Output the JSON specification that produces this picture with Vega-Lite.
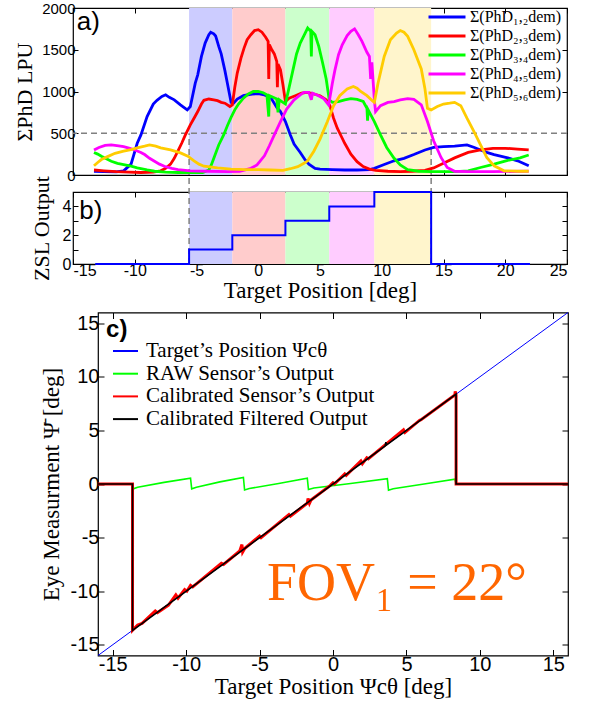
{
  "$schema": "https://vega.github.io/schema/vega-lite/v6.json",
  "background": "white",
  "padding": {"left": 13, "top": 0, "right": 5, "bottom": 2},
  "datasets": {
    "bands": [
      {"b": "1", "x1": -5.6, "x2": -2.1},
      {"b": "2", "x1": -2.1, "x2": 2.2},
      {"b": "3", "x1": 2.2, "x2": 5.75},
      {"b": "4", "x1": 5.75, "x2": 9.4},
      {"b": "5", "x1": 9.4, "x2": 14.0}
    ],
    "thr": [{"x": -5.6}, {"x": 14.0}],
    "series": [
      {"k": 1, "name": "Σ(PhD₁,₂dem)"},
      {"k": 2, "name": "Σ(PhD₂,₃dem)"},
      {"k": 3, "name": "Σ(PhD₃,₄dem)"},
      {"k": 4, "name": "Σ(PhD₄,₅dem)"},
      {"k": 5, "name": "Σ(PhD₅,₆dem)"}
    ],
    "phd": [
      {"k":1,"x":-13.3,"v":45},{"k":1,"x":-12.5,"v":40},{"k":1,"x":-11.5,"v":38},{"k":1,"x":-10.9,"v":50},{"k":1,"x":-10.3,"v":130},{"k":1,"x":-9.8,"v":380},{"k":1,"x":-9.5,"v":480},{"k":1,"x":-9.0,"v":700},{"k":1,"x":-8.5,"v":850},{"k":1,"x":-8.2,"v":895},{"k":1,"x":-7.8,"v":940},{"k":1,"x":-7.5,"v":960},{"k":1,"x":-7.2,"v":930},{"k":1,"x":-6.8,"v":900},{"k":1,"x":-6.3,"v":840},{"k":1,"x":-5.75,"v":780},{"k":1,"x":-5.5,"v":820},{"k":1,"x":-5.1,"v":1100},{"k":1,"x":-4.9,"v":1200},{"k":1,"x":-4.6,"v":1420},{"k":1,"x":-4.3,"v":1580},{"k":1,"x":-4.0,"v":1680},{"k":1,"x":-3.85,"v":1710},{"k":1,"x":-3.6,"v":1690},{"k":1,"x":-3.45,"v":1665},{"k":1,"x":-3.2,"v":1540},{"k":1,"x":-3.0,"v":1450},{"k":1,"x":-2.7,"v":1250},{"k":1,"x":-2.5,"v":1100},{"k":1,"x":-2.2,"v":870},{"k":1,"x":-2.0,"v":860},{"k":1,"x":-1.7,"v":910},{"k":1,"x":-1.2,"v":950},{"k":1,"x":-0.5,"v":970},{"k":1,"x":0.0,"v":975},{"k":1,"x":0.5,"v":960},{"k":1,"x":1.0,"v":930},{"k":1,"x":1.5,"v":810},{"k":1,"x":1.8,"v":760},{"k":1,"x":2.2,"v":640},{"k":1,"x":2.6,"v":480},{"k":1,"x":2.9,"v":370},{"k":1,"x":3.4,"v":270},{"k":1,"x":3.8,"v":180},{"k":1,"x":4.1,"v":130},{"k":1,"x":4.6,"v":80},{"k":1,"x":5.0,"v":70},{"k":1,"x":6.0,"v":65},{"k":1,"x":7.0,"v":60},{"k":1,"x":8.0,"v":60},{"k":1,"x":9.0,"v":65},{"k":1,"x":9.4,"v":80},{"k":1,"x":10.2,"v":125},{"k":1,"x":11.0,"v":170},{"k":1,"x":11.8,"v":200},{"k":1,"x":12.6,"v":245},{"k":1,"x":13.5,"v":300},{"k":1,"x":14.2,"v":330},{"k":1,"x":15.0,"v":340},{"k":1,"x":15.9,"v":345},{"k":1,"x":16.9,"v":360},{"k":1,"x":17.5,"v":330},{"k":1,"x":18.5,"v":270},{"k":1,"x":19.1,"v":245},{"k":1,"x":20.2,"v":205},{"k":1,"x":21.0,"v":170},{"k":1,"x":21.9,"v":110},
      {"k":2,"x":-13.3,"v":60},{"k":2,"x":-12.5,"v":50},{"k":2,"x":-11.5,"v":40},{"k":2,"x":-10.5,"v":35},{"k":2,"x":-9.5,"v":30},{"k":2,"x":-8.5,"v":35},{"k":2,"x":-7.9,"v":50},{"k":2,"x":-7.5,"v":80},{"k":2,"x":-7.1,"v":130},{"k":2,"x":-6.8,"v":200},{"k":2,"x":-6.5,"v":290},{"k":2,"x":-6.2,"v":380},{"k":2,"x":-5.9,"v":480},{"k":2,"x":-5.5,"v":600},{"k":2,"x":-5.2,"v":680},{"k":2,"x":-4.9,"v":760},{"k":2,"x":-4.6,"v":850},{"k":2,"x":-4.4,"v":895},{"k":2,"x":-4.0,"v":910},{"k":2,"x":-3.6,"v":900},{"k":2,"x":-3.3,"v":890},{"k":2,"x":-3.0,"v":870},{"k":2,"x":-2.7,"v":860},{"k":2,"x":-2.3,"v":820},{"k":2,"x":-2.1,"v":840},{"k":2,"x":-1.9,"v":1050},{"k":2,"x":-1.7,"v":1220},{"k":2,"x":-1.4,"v":1400},{"k":2,"x":-1.15,"v":1520},{"k":2,"x":-0.9,"v":1620},{"k":2,"x":-0.6,"v":1680},{"k":2,"x":-0.3,"v":1730},{"k":2,"x":0.0,"v":1740},{"k":2,"x":0.3,"v":1710},{"k":2,"x":0.6,"v":1650},{"k":2,"x":0.8,"v":1600},{"k":2,"x":0.85,"v":1150},{"k":2,"x":0.9,"v":1560},{"k":2,"x":1.1,"v":1500},{"k":2,"x":1.3,"v":1450},{"k":2,"x":1.5,"v":1360},{"k":2,"x":1.55,"v":1050},{"k":2,"x":1.6,"v":1330},{"k":2,"x":1.8,"v":1260},{"k":2,"x":2.0,"v":1080},{"k":2,"x":2.2,"v":880},{"k":2,"x":2.5,"v":920},{"k":2,"x":3.0,"v":950},{"k":2,"x":3.5,"v":980},{"k":2,"x":4.0,"v":990},{"k":2,"x":4.5,"v":970},{"k":2,"x":5.0,"v":950},{"k":2,"x":5.5,"v":900},{"k":2,"x":5.8,"v":830},{"k":2,"x":6.1,"v":680},{"k":2,"x":6.4,"v":560},{"k":2,"x":6.7,"v":470},{"k":2,"x":7.0,"v":380},{"k":2,"x":7.5,"v":250},{"k":2,"x":8.0,"v":160},{"k":2,"x":8.5,"v":100},{"k":2,"x":9.0,"v":70},{"k":2,"x":9.5,"v":55},{"k":2,"x":10.5,"v":45},{"k":2,"x":11.5,"v":40},{"k":2,"x":12.5,"v":45},{"k":2,"x":13.5,"v":55},{"k":2,"x":14.2,"v":85},{"k":2,"x":15.0,"v":140},{"k":2,"x":15.9,"v":205},{"k":2,"x":17.0,"v":270},{"k":2,"x":18.0,"v":300},{"k":2,"x":19.0,"v":320},{"k":2,"x":20.0,"v":320},{"k":2,"x":21.0,"v":310},{"k":2,"x":21.9,"v":300},
      {"k":3,"x":-13.3,"v":270},{"k":3,"x":-13.0,"v":250},{"k":3,"x":-12.7,"v":225},{"k":3,"x":-12.3,"v":195},{"k":3,"x":-11.9,"v":165},{"k":3,"x":-11.4,"v":140},{"k":3,"x":-10.9,"v":125},{"k":3,"x":-10.3,"v":105},{"k":3,"x":-9.8,"v":85},{"k":3,"x":-9.0,"v":60},{"k":3,"x":-8.4,"v":45},{"k":3,"x":-7.5,"v":35},{"k":3,"x":-6.5,"v":30},{"k":3,"x":-5.5,"v":30},{"k":3,"x":-4.5,"v":30},{"k":3,"x":-4.0,"v":60},{"k":3,"x":-3.8,"v":120},{"k":3,"x":-3.5,"v":240},{"k":3,"x":-3.2,"v":360},{"k":3,"x":-2.8,"v":480},{"k":3,"x":-2.5,"v":590},{"k":3,"x":-2.2,"v":690},{"k":3,"x":-1.9,"v":780},{"k":3,"x":-1.6,"v":850},{"k":3,"x":-1.2,"v":920},{"k":3,"x":-0.8,"v":970},{"k":3,"x":-0.4,"v":1000},{"k":3,"x":0.0,"v":1000},{"k":3,"x":0.4,"v":985},{"k":3,"x":0.7,"v":960},{"k":3,"x":0.85,"v":700},{"k":3,"x":0.9,"v":950},{"k":3,"x":1.2,"v":930},{"k":3,"x":1.5,"v":910},{"k":3,"x":1.6,"v":750},{"k":3,"x":1.7,"v":900},{"k":3,"x":2.0,"v":870},{"k":3,"x":2.2,"v":850},{"k":3,"x":2.5,"v":1050},{"k":3,"x":2.8,"v":1250},{"k":3,"x":3.1,"v":1450},{"k":3,"x":3.4,"v":1580},{"k":3,"x":3.7,"v":1670},{"k":3,"x":4.0,"v":1760},{"k":3,"x":4.25,"v":1720},{"k":3,"x":4.3,"v":1420},{"k":3,"x":4.35,"v":1720},{"k":3,"x":4.6,"v":1680},{"k":3,"x":4.9,"v":1540},{"k":3,"x":5.2,"v":1350},{"k":3,"x":5.5,"v":1150},{"k":3,"x":5.75,"v":900},{"k":3,"x":6.0,"v":870},{"k":3,"x":6.5,"v":880},{"k":3,"x":7.0,"v":900},{"k":3,"x":7.5,"v":915},{"k":3,"x":8.0,"v":905},{"k":3,"x":8.5,"v":880},{"k":3,"x":8.8,"v":800},{"k":3,"x":8.85,"v":650},{"k":3,"x":8.9,"v":780},{"k":3,"x":9.4,"v":640},{"k":3,"x":9.9,"v":480},{"k":3,"x":10.4,"v":330},{"k":3,"x":11.0,"v":200},{"k":3,"x":11.5,"v":120},{"k":3,"x":12.1,"v":65},{"k":3,"x":13.0,"v":45},{"k":3,"x":14.0,"v":40},{"k":3,"x":15.0,"v":40},{"k":3,"x":16.0,"v":40},{"k":3,"x":17.0,"v":50},{"k":3,"x":18.0,"v":90},{"k":3,"x":19.1,"v":130},{"k":3,"x":20.2,"v":175},{"k":3,"x":21.2,"v":205},{"k":3,"x":21.9,"v":240},
      {"k":4,"x":-13.3,"v":300},{"k":4,"x":-12.9,"v":330},{"k":4,"x":-12.4,"v":355},{"k":4,"x":-11.9,"v":360},{"k":4,"x":-11.3,"v":350},{"k":4,"x":-10.9,"v":340},{"k":4,"x":-10.4,"v":320},{"k":4,"x":-10.0,"v":300},{"k":4,"x":-9.5,"v":270},{"k":4,"x":-9.2,"v":245},{"k":4,"x":-8.8,"v":200},{"k":4,"x":-8.4,"v":165},{"k":4,"x":-8.0,"v":130},{"k":4,"x":-7.6,"v":105},{"k":4,"x":-7.0,"v":80},{"k":4,"x":-6.5,"v":65},{"k":4,"x":-5.5,"v":50},{"k":4,"x":-4.0,"v":45},{"k":4,"x":-2.5,"v":40},{"k":4,"x":-1.5,"v":45},{"k":4,"x":-0.6,"v":80},{"k":4,"x":-0.1,"v":120},{"k":4,"x":0.5,"v":230},{"k":4,"x":0.9,"v":350},{"k":4,"x":1.3,"v":480},{"k":4,"x":1.8,"v":640},{"k":4,"x":2.3,"v":790},{"k":4,"x":2.9,"v":900},{"k":4,"x":3.4,"v":960},{"k":4,"x":3.7,"v":990},{"k":4,"x":4.1,"v":990},{"k":4,"x":4.3,"v":900},{"k":4,"x":4.4,"v":980},{"k":4,"x":4.8,"v":955},{"k":4,"x":5.3,"v":915},{"k":4,"x":5.7,"v":840},{"k":4,"x":6.0,"v":1100},{"k":4,"x":6.2,"v":1250},{"k":4,"x":6.5,"v":1440},{"k":4,"x":6.8,"v":1560},{"k":4,"x":7.2,"v":1670},{"k":4,"x":7.5,"v":1720},{"k":4,"x":7.8,"v":1750},{"k":4,"x":8.1,"v":1680},{"k":4,"x":8.4,"v":1600},{"k":4,"x":8.8,"v":1470},{"k":4,"x":9.0,"v":1420},{"k":4,"x":9.1,"v":1150},{"k":4,"x":9.2,"v":1350},{"k":4,"x":9.4,"v":900},{"k":4,"x":9.5,"v":760},{"k":4,"x":9.9,"v":830},{"k":4,"x":10.5,"v":870},{"k":4,"x":11.0,"v":880},{"k":4,"x":11.5,"v":900},{"k":4,"x":12.1,"v":915},{"k":4,"x":12.6,"v":905},{"k":4,"x":13.2,"v":840},{"k":4,"x":13.7,"v":640},{"k":4,"x":14.2,"v":410},{"k":4,"x":14.8,"v":210},{"k":4,"x":15.3,"v":90},{"k":4,"x":15.9,"v":45},{"k":4,"x":17.0,"v":40},{"k":4,"x":19.0,"v":40},{"k":4,"x":21.9,"v":45},
      {"k":5,"x":-13.3,"v":110},{"k":5,"x":-13.0,"v":150},{"k":5,"x":-12.7,"v":185},{"k":5,"x":-12.2,"v":220},{"k":5,"x":-11.6,"v":260},{"k":5,"x":-10.9,"v":285},{"k":5,"x":-10.3,"v":305},{"k":5,"x":-9.8,"v":325},{"k":5,"x":-9.2,"v":345},{"k":5,"x":-8.8,"v":360},{"k":5,"x":-8.3,"v":345},{"k":5,"x":-7.9,"v":325},{"k":5,"x":-7.1,"v":300},{"k":5,"x":-6.3,"v":265},{"k":5,"x":-5.7,"v":225},{"k":5,"x":-5.2,"v":170},{"k":5,"x":-4.8,"v":130},{"k":5,"x":-4.4,"v":105},{"k":5,"x":-3.3,"v":85},{"k":5,"x":-2.2,"v":70},{"k":5,"x":-1.0,"v":65},{"k":5,"x":0.0,"v":65},{"k":5,"x":1.0,"v":60},{"k":5,"x":2.0,"v":55},{"k":5,"x":2.6,"v":75},{"k":5,"x":3.2,"v":100},{"k":5,"x":3.7,"v":140},{"k":5,"x":4.0,"v":170},{"k":5,"x":4.5,"v":285},{"k":5,"x":5.0,"v":430},{"k":5,"x":5.6,"v":640},{"k":5,"x":6.1,"v":830},{"k":5,"x":6.6,"v":950},{"k":5,"x":7.2,"v":1030},{"k":5,"x":7.7,"v":1060},{"k":5,"x":8.0,"v":1040},{"k":5,"x":8.3,"v":1000},{"k":5,"x":8.8,"v":950},{"k":5,"x":9.3,"v":880},{"k":5,"x":9.4,"v":870},{"k":5,"x":9.7,"v":1100},{"k":5,"x":10.2,"v":1420},{"k":5,"x":10.7,"v":1620},{"k":5,"x":11.2,"v":1700},{"k":5,"x":11.5,"v":1730},{"k":5,"x":11.8,"v":1710},{"k":5,"x":12.1,"v":1660},{"k":5,"x":12.6,"v":1500},{"k":5,"x":13.2,"v":1270},{"k":5,"x":13.5,"v":1030},{"k":5,"x":13.7,"v":800},{"k":5,"x":14.0,"v":780},{"k":5,"x":14.5,"v":820},{"k":5,"x":15.0,"v":850},{"k":5,"x":15.5,"v":860},{"k":5,"x":15.9,"v":870},{"k":5,"x":16.4,"v":830},{"k":5,"x":16.9,"v":680},{"k":5,"x":17.5,"v":510},{"k":5,"x":18.0,"v":360},{"k":5,"x":18.5,"v":210},{"k":5,"x":19.1,"v":110},{"k":5,"x":19.9,"v":50},{"k":5,"x":21.0,"v":45},{"k":5,"x":21.9,"v":45}
    ],
    "zsl": [
      {"x": -13.2, "z": 0}, {"x": -5.6, "z": 1}, {"x": -2.1, "z": 2}, {"x": 2.2, "z": 3},
      {"x": 5.75, "z": 4}, {"x": 9.4, "z": 5}, {"x": 14.0, "z": 0}, {"x": 22.0, "z": 0}
    ],
    "cnames": [
      {"c": "t", "name": "Target’s Position Ψcθ"},
      {"c": "g", "name": "RAW Sensor’s Output"},
      {"c": "r", "name": "Calibrated Sensor’s Output"},
      {"c": "k", "name": "Calibrated Filtered Output"}
    ],
    "cc": [
      {"c":"t","i":0,"x":-16,"y":-16},{"c":"t","i":1,"x":16,"y":16},
      {"c":"g","i":0,"x":-16,"y":0},{"c":"g","i":1,"x":-13.65,"y":0},{"c":"g","i":2,"x":-13.6,"y":-0.45},{"c":"g","i":3,"x":-13.3,"y":-0.3},{"c":"g","i":4,"x":-11.5,"y":0.15},{"c":"g","i":5,"x":-9.7,"y":0.55},{"c":"g","i":6,"x":-9.62,"y":-0.45},{"c":"g","i":7,"x":-9.3,"y":-0.3},{"c":"g","i":8,"x":-7.7,"y":0.2},{"c":"g","i":9,"x":-6.1,"y":0.62},{"c":"g","i":10,"x":-6.02,"y":-0.55},{"c":"g","i":11,"x":-5.7,"y":-0.42},{"c":"g","i":12,"x":-3.7,"y":0.05},{"c":"g","i":13,"x":-1.75,"y":0.55},{"c":"g","i":14,"x":-1.67,"y":-0.52},{"c":"g","i":15,"x":-1.3,"y":-0.38},{"c":"g","i":16,"x":1.2,"y":0.05},{"c":"g","i":17,"x":3.7,"y":0.5},{"c":"g","i":18,"x":3.78,"y":-0.58},{"c":"g","i":19,"x":4.1,"y":-0.45},{"c":"g","i":20,"x":6.2,"y":0.0},{"c":"g","i":21,"x":8.3,"y":0.45},{"c":"g","i":22,"x":8.38,"y":0},{"c":"g","i":23,"x":16,"y":0},
      {"c":"r","i":0,"x":-16,"y":0},{"c":"r","i":1,"x":-13.65,"y":0},{"c":"r","i":2,"x":-13.65,"y":-13.65},{"c":"r","i":3,"x":-13.3,"y":-13.15},{"c":"r","i":4,"x":-13.0,"y":-13.0},{"c":"r","i":5,"x":-12.1,"y":-11.85},{"c":"r","i":6,"x":-11.95,"y":-12.0},{"c":"r","i":7,"x":-11.2,"y":-11.3},{"c":"r","i":8,"x":-10.7,"y":-10.35},{"c":"r","i":9,"x":-10.55,"y":-10.65},{"c":"r","i":10,"x":-10.1,"y":-9.85},{"c":"r","i":11,"x":-9.95,"y":-10.0},{"c":"r","i":12,"x":-9.7,"y":-9.45},{"c":"r","i":13,"x":-9.55,"y":-9.6},{"c":"r","i":14,"x":-7.6,"y":-7.4},{"c":"r","i":15,"x":-7.45,"y":-7.5},{"c":"r","i":16,"x":-6.35,"y":-6.25},{"c":"r","i":17,"x":-6.2,"y":-5.65},{"c":"r","i":18,"x":-6.15,"y":-6.35},{"c":"r","i":19,"x":-6.0,"y":-6.0},{"c":"r","i":20,"x":-5.0,"y":-4.85},{"c":"r","i":21,"x":-4.9,"y":-5.0},{"c":"r","i":22,"x":-3.0,"y":-2.85},{"c":"r","i":23,"x":-2.9,"y":-3.0},{"c":"r","i":24,"x":-1.75,"y":-1.8},{"c":"r","i":25,"x":-1.7,"y":-1.35},{"c":"r","i":26,"x":-1.6,"y":-1.8},{"c":"r","i":27,"x":-1.5,"y":-1.5},{"c":"r","i":28,"x":-0.2,"y":-0.15},{"c":"r","i":29,"x":0.0,"y":0.12},{"c":"r","i":30,"x":0.1,"y":0.0},{"c":"r","i":31,"x":0.8,"y":0.95},{"c":"r","i":32,"x":0.9,"y":0.8},{"c":"r","i":33,"x":1.9,"y":2.15},{"c":"r","i":34,"x":2.0,"y":1.9},{"c":"r","i":35,"x":2.3,"y":2.45},{"c":"r","i":36,"x":2.4,"y":2.35},{"c":"r","i":37,"x":4.8,"y":5.05},{"c":"r","i":38,"x":4.9,"y":4.8},{"c":"r","i":39,"x":5.9,"y":5.95},{"c":"r","i":40,"x":6.0,"y":6.0},{"c":"r","i":41,"x":8.3,"y":8.3},{"c":"r","i":42,"x":8.32,"y":8.65},{"c":"r","i":43,"x":8.38,"y":8.3},{"c":"r","i":44,"x":8.38,"y":0},{"c":"r","i":45,"x":16,"y":0},
      {"c":"k","i":0,"x":-16,"y":0},{"c":"k","i":1,"x":-13.65,"y":0},{"c":"k","i":2,"x":-13.65,"y":-13.65},{"c":"k","i":3,"x":3.55,"y":3.55},{"c":"k","i":4,"x":3.6,"y":3.9},{"c":"k","i":5,"x":3.65,"y":3.65},{"c":"k","i":6,"x":8.38,"y":8.38},{"c":"k","i":7,"x":8.38,"y":0},{"c":"k","i":8,"x":16,"y":0}
    ]
  },
  "vconcat": [
    {
      "spacing": -11,
      "resolve": {"scale": {"color": "independent", "stroke": "independent"}, "legend": {"color": "independent", "stroke": "independent"}},
      "vconcat": [
        {
          "width": 494,
          "height": 167,
          "layer": [
            {
              "data": {"name": "bands"},
              "mark": {"type": "rect"},
              "encoding": {
                "x": {"field": "x1", "type": "quantitative", "scale": {"domain": [-15, 25], "nice": false},
                      "axis": {"orient": "top", "values": [-15,-10,-5,0,5,10,15,20,25], "labels": false, "title": null}},
                "x2": {"field": "x2"},
                "fill": {"field": "b", "type": "nominal", "scale": {"domain": ["1","2","3","4","5"], "range": ["#ccccff","#ffcccc","#ccffcc","#ffccff","#fff5cc"]}, "legend": null}
              }
            },
            {
              "data": {"values": [{}]},
              "mark": {"type": "rule", "color": "#808080", "strokeDash": [6, 4], "strokeWidth": 1.5},
              "encoding": {
                "y": {"datum": 500, "type": "quantitative", "scale": {"domain": [0, 2000], "nice": false},
                      "axis": {"orient": "right", "values": [0,500,1000,1500,2000], "labels": false, "title": null}}
              }
            },
            {
              "data": {"name": "thr"},
              "mark": {"type": "rule", "color": "#808080", "strokeDash": [6, 4], "strokeWidth": 1.5},
              "encoding": {
                "x": {"field": "x", "type": "quantitative", "scale": {"domain": [-15, 25], "nice": false}, "axis": null},
                "y": {"datum": 0, "type": "quantitative", "scale": {"domain": [0, 2000], "nice": false}, "axis": null},
                "y2": {"datum": 500}
              }
            },
            {
              "data": {"name": "phd"},
              "transform": [{"lookup": "k", "from": {"data": {"name": "series"}, "key": "k", "fields": ["name"]}}],
              "mark": {"type": "line", "strokeWidth": 2.8},
              "encoding": {
                "x": {"field": "x", "type": "quantitative", "scale": {"domain": [-15, 25], "nice": false},
                      "axis": {"orient": "bottom", "values": [-15,-10,-5,0,5,10,15,20,25], "labels": false, "title": null}},
                "y": {"field": "v", "type": "quantitative", "scale": {"domain": [0, 2000], "nice": false},
                      "axis": {"orient": "left", "values": [0,500,1000,1500,2000], "format": "d", "title": "ΣPhD LPU", "titleFontSize": 22, "labelPadding": 3, "titlePadding": 5}},
                "color": {"field": "name", "type": "nominal",
                          "scale": {"domain": ["Σ(PhD₁,₂dem)","Σ(PhD₂,₃dem)","Σ(PhD₃,₄dem)","Σ(PhD₄,₅dem)","Σ(PhD₅,₆dem)"], "range": ["#0000ff","#ff0000","#00ff00","#ff00ff","#ffcc00"]},
                          "legend": {"title": null, "orient": "none", "legendX": 363, "legendY": -2, "symbolType": "M-2,0L2,0", "symbolSize": 342, "symbolStrokeWidth": 3, "labelFontSize": 16, "labelOffset": 12, "rowPadding": 0, "padding": 0, "labelLimit": 300}}
              }
            },
            {
              "data": {"values": [{}]},
              "mark": {"type": "text", "text": "a)", "fontSize": 26, "align": "left", "baseline": "top", "font": "Liberation Sans"},
              "encoding": {
                "x": {"datum": -14.7, "type": "quantitative", "axis": null},
                "y": {"datum": 1990, "type": "quantitative", "axis": null}
              }
            }
          ],
          "resolve": {"axis": {"x": "independent", "y": "independent"}}
        },
        {
          "width": 494,
          "height": 72,
          "layer": [
            {
              "data": {"name": "bands"},
              "mark": {"type": "rect"},
              "encoding": {
                "x": {"field": "x1", "type": "quantitative", "scale": {"domain": [-15, 25], "nice": false},
                      "axis": {"orient": "top", "values": [-15,-10,-5,0,5,10,15,20,25], "labels": false, "title": null}},
                "x2": {"field": "x2"},
                "fill": {"field": "b", "type": "nominal", "legend": null}
              }
            },
            {
              "data": {"name": "thr"},
              "mark": {"type": "rule", "color": "#808080", "strokeDash": [6, 4], "strokeWidth": 1.5, "clip": false},
              "encoding": {
                "x": {"field": "x", "type": "quantitative", "scale": {"domain": [-15, 25], "nice": false}, "axis": null},
                "y": {"datum": 0, "type": "quantitative", "scale": {"domain": [0, 5], "nice": false},
                      "axis": {"orient": "right", "values": [0,1,2,3,4,5], "labels": false, "title": null}},
                "y2": {"datum": 6.2}
              }
            },
            {
              "data": {"name": "zsl"},
              "mark": {"type": "line", "interpolate": "step-after", "color": "#0000ff", "strokeWidth": 2},
              "encoding": {
                "x": {"field": "x", "type": "quantitative", "scale": {"domain": [-15, 25], "nice": false},
                      "axis": {"orient": "bottom", "values": [-15,-10,-5,0,5,10,15,20,25], "labelExpr": "replace(datum.label, '−', '-')", "labelFontSize": 16, "title": "Target Position [deg]", "titleFontSize": 23, "labelPadding": 3, "titlePadding": 1}},
                "y": {"field": "z", "type": "quantitative", "scale": {"domain": [0, 5], "nice": false},
                      "axis": {"orient": "left", "values": [0,1,2,3,4,5], "labelExpr": "datum.value % 2 == 0 ? datum.label : ''", "labelFontSize": 16, "title": "ZSL Output", "titleFontSize": 22, "labelPadding": 7, "titlePadding": 9}}
              }
            },
            {
              "data": {"values": [{}]},
              "mark": {"type": "text", "text": "b)", "fontSize": 26, "align": "left", "baseline": "top", "font": "Liberation Sans"},
              "encoding": {
                "x": {"datum": -14.5, "type": "quantitative", "axis": null},
                "y": {"datum": 4.55, "type": "quantitative", "axis": null}
              }
            }
          ],
          "resolve": {"axis": {"x": "independent", "y": "independent"}}
        }
      ]
    },
    {
      "spacing": 0,
      "bounds": "flush",
      "resolve": {"scale": {"color": "independent", "stroke": "independent"}, "legend": {"color": "independent", "stroke": "independent"}},
      "hconcat": [
        {
          "width": 25,
          "height": 343,
          "view": {"stroke": null},
          "data": {"values": [{}]},
          "mark": {"type": "point", "opacity": 0}
        },
        {
          "width": 470,
          "height": 343,
          "layer": [
            {
              "data": {"name": "cc"},
              "transform": [{"filter": "datum.c == 't'"}, {"lookup": "c", "from": {"data": {"name": "cnames"}, "key": "c", "fields": ["name"]}}],
              "mark": {"type": "line", "strokeWidth": 1},
              "encoding": {
                "x": {"field": "x", "type": "quantitative", "scale": {"domain": [-16, 16], "nice": false},
                      "axis": {"orient": "top", "values": [-15,-10,-5,0,5,10,15], "labels": false, "title": null, "tickSize": -6}},
                "y": {"field": "y", "type": "quantitative", "scale": {"domain": [-16, 16], "nice": false},
                      "axis": {"orient": "right", "values": [-15,-10,-5,0,5,10,15], "labels": false, "title": null, "tickSize": -6}},
                "order": {"field": "i", "type": "quantitative"},
                "stroke": {"field": "name", "type": "nominal",
                           "scale": {"domain": ["Target’s Position Ψcθ","RAW Sensor’s Output","Calibrated Sensor’s Output","Calibrated Filtered Output"], "range": ["#0000ff","#00ff00","#ff0000","#000000"]},
                           "legend": {"title": null, "orient": "none", "legendX": 17, "legendY": 28, "symbolType": "M-2,0L2,0", "symbolSize": 156, "symbolStrokeWidth": 2, "labelFontSize": 21, "labelOffset": 10, "rowPadding": 0.7, "padding": 0, "labelLimit": 400}}
              }
            },
            {
              "data": {"name": "cc"},
              "transform": [{"filter": "datum.c == 'g'"}, {"lookup": "c", "from": {"data": {"name": "cnames"}, "key": "c", "fields": ["name"]}}],
              "mark": {"type": "line", "strokeWidth": 1.6},
              "encoding": {
                "x": {"field": "x", "type": "quantitative", "scale": {"domain": [-16, 16], "nice": false},
                      "axis": {"orient": "bottom", "values": [-15,-10,-5,0,5,10,15], "labelExpr": "replace(datum.label, '−', '-')", "title": "Target Position Ψcθ [deg]", "labelFontSize": 20, "titleFontSize": 23, "labelPadding": 5, "titlePadding": 1, "tickSize": -6}},
                "y": {"field": "y", "type": "quantitative", "scale": {"domain": [-16, 16], "nice": false},
                      "axis": {"orient": "left", "values": [-15,-10,-5,0,5,10,15], "labelExpr": "replace(datum.label, '−', '-')", "title": "Eye Measurment Ψ̄ [deg]", "labelFontSize": 20, "titleFontSize": 23, "labelPadding": 5, "titlePadding": 7, "tickSize": -6}},
                "order": {"field": "i", "type": "quantitative"},
                "stroke": {"field": "name", "type": "nominal"}
              }
            },
            {
              "data": {"name": "cc"},
              "transform": [{"filter": "datum.c == 'r'"}, {"lookup": "c", "from": {"data": {"name": "cnames"}, "key": "c", "fields": ["name"]}}],
              "mark": {"type": "line", "strokeWidth": 3},
              "encoding": {
                "x": {"field": "x", "type": "quantitative", "scale": {"domain": [-16, 16], "nice": false}, "axis": null},
                "y": {"field": "y", "type": "quantitative", "scale": {"domain": [-16, 16], "nice": false}, "axis": null},
                "order": {"field": "i", "type": "quantitative"},
                "stroke": {"field": "name", "type": "nominal"}
              }
            },
            {
              "data": {"name": "cc"},
              "transform": [{"filter": "datum.c == 'k'"}, {"lookup": "c", "from": {"data": {"name": "cnames"}, "key": "c", "fields": ["name"]}}],
              "mark": {"type": "line", "strokeWidth": 1.6},
              "encoding": {
                "x": {"field": "x", "type": "quantitative", "scale": {"domain": [-16, 16], "nice": false}, "axis": null},
                "y": {"field": "y", "type": "quantitative", "scale": {"domain": [-16, 16], "nice": false}, "axis": null},
                "order": {"field": "i", "type": "quantitative"},
                "stroke": {"field": "name", "type": "nominal"}
              }
            },
            {
              "data": {"values": [{}]},
              "mark": {"type": "text", "text": "FOV₁ = 22°", "fontSize": 54, "align": "left", "baseline": "alphabetic", "font": "Liberation Serif", "color": "#ff6600"},
              "encoding": {
                "x": {"datum": -4.5, "type": "quantitative", "axis": null},
                "y": {"datum": -10.8, "type": "quantitative", "axis": null}
              }
            },
            {
              "data": {"values": [{}]},
              "mark": {"type": "text", "text": "c)", "fontSize": 24, "fontWeight": "bold", "align": "left", "baseline": "top", "font": "Liberation Sans"},
              "encoding": {
                "x": {"datum": -15.45, "type": "quantitative", "axis": null},
                "y": {"datum": 15.5, "type": "quantitative", "axis": null}
              }
            }
          ],
          "resolve": {"axis": {"x": "independent", "y": "independent"}}
        }
      ]
    }
  ],
  "spacing": 6.5,
  "resolve": {"scale": {"color": "independent", "stroke": "independent"}, "legend": {"color": "independent", "stroke": "independent"}},
  "config": {
    "view": {"stroke": "#000000", "strokeWidth": 1.2},
    "axis": {"grid": false, "domain": false, "tickColor": "#000000", "tickSize": -5, "tickWidth": 1,
             "labelFont": "Liberation Sans", "labelColor": "#000000", "labelFontSize": 15,
             "titleFont": "Liberation Serif", "titleFontWeight": "normal", "titleColor": "#000000", "titleFontSize": 21},
    "legend": {"labelFont": "Liberation Serif", "labelColor": "#000000"}
  }
}
